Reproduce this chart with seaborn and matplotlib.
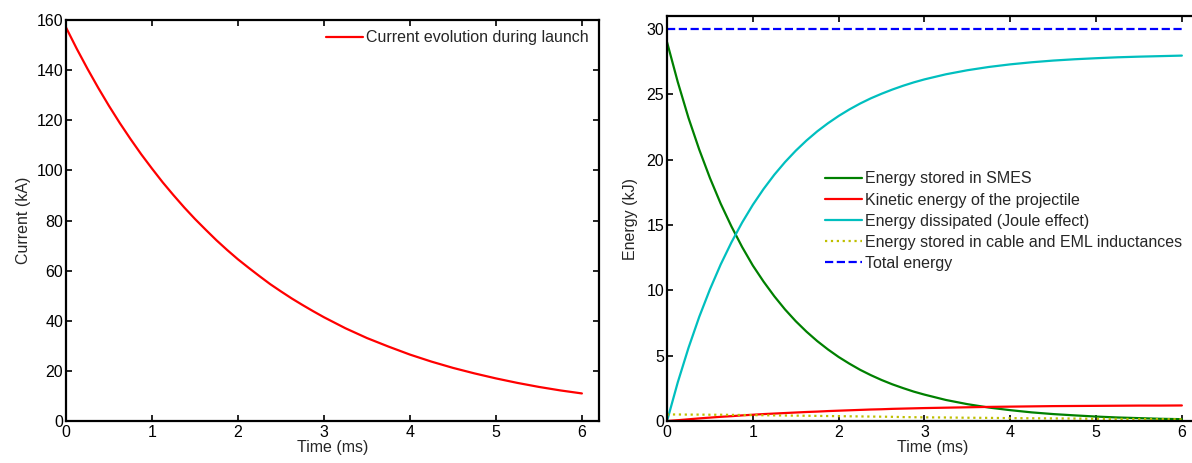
import numpy as np
import pandas as pd
import matplotlib
matplotlib.use("Agg")
import matplotlib.pyplot as plt
import seaborn as sns

# ---- data ----
time_ms = [0.0, 0.125, 0.25, 0.375, 0.5, 0.625, 0.75, 0.875, 1.0, 1.125, 1.25, 1.375,
           1.5, 1.625, 1.75, 1.875, 2.0, 2.125, 2.25, 2.375, 2.5, 2.625, 2.75, 2.875,
           3.0, 3.25, 3.5, 3.75, 4.0, 4.25, 4.5, 4.75, 5.0, 5.25, 5.5, 5.75, 6.0]

current_kA = [157.0, 148.5, 140.5, 132.9, 125.7, 118.9, 112.5, 106.4, 100.7, 95.2,
              90.1, 85.2, 80.6, 76.3, 72.1, 68.2, 64.5, 61.1, 57.8, 54.6, 51.7, 48.9,
              46.3, 43.8, 41.4, 37.0, 33.1, 29.7, 26.5, 23.7, 21.2, 19.0, 17.0, 15.2,
              13.6, 12.2, 11.0]

energy_smes = [29.0, 25.95, 23.2, 20.78, 18.6, 16.64, 14.9, 13.32, 11.9, 10.67, 9.55,
               8.54, 7.64, 6.84, 6.12, 5.48, 4.90, 4.39, 3.92, 3.51, 3.14, 2.81, 2.52,
               2.25, 2.02, 1.61, 1.29, 1.03, 0.83, 0.66, 0.53, 0.43, 0.34, 0.27, 0.22,
               0.17, 0.14]

energy_kinetic = [0.0, 0.06, 0.13, 0.20, 0.26, 0.32, 0.37, 0.43, 0.48, 0.53, 0.57, 0.61,
                  0.65, 0.69, 0.72, 0.76, 0.79, 0.82, 0.85, 0.88, 0.90, 0.93, 0.95,
                  0.97, 0.99, 1.02, 1.05, 1.08, 1.10, 1.12, 1.14, 1.15, 1.16, 1.17,
                  1.18, 1.18, 1.19]

energy_joule = [0.0, 2.96, 5.60, 7.97, 10.08, 11.98, 13.67, 15.19, 16.55, 17.76, 18.85,
                19.82, 20.69, 21.47, 22.17, 22.79, 23.35, 23.85, 24.30, 24.70, 25.05,
                25.37, 25.66, 25.92, 26.15, 26.54, 26.85, 27.10, 27.30, 27.46, 27.59,
                27.69, 27.77, 27.84, 27.89, 27.93, 27.97]

energy_inductance = [0.50, 0.50, 0.49, 0.49, 0.48, 0.48, 0.47, 0.46, 0.45, 0.44, 0.43,
                     0.42, 0.41, 0.40, 0.39, 0.38, 0.37, 0.36, 0.35, 0.34, 0.33, 0.32,
                     0.30, 0.29, 0.28, 0.27, 0.25, 0.24, 0.22, 0.21, 0.20, 0.19, 0.17,
                     0.16, 0.15, 0.14, 0.13]

energy_total = [30.0] * len(time_ms)

current_label = "Current evolution during launch"
energy_labels = ["Energy stored in SMES",
                 "Kinetic energy of the projectile",
                 "Energy dissipated (Joule effect)",
                 "Energy stored in cable and EML inductances",
                 "Total energy"]

# ---- style ----
FS = 11.5
sns.set_style("ticks")
plt.rcParams["font.family"] = ["Liberation Sans", "DejaVu Sans"]
plt.rcParams["font.size"] = FS
plt.rcParams["axes.linewidth"] = 1.6
plt.rcParams["xtick.direction"] = "in"
plt.rcParams["ytick.direction"] = "in"
plt.rcParams["xtick.top"] = True
plt.rcParams["ytick.right"] = True
plt.rcParams["xtick.major.size"] = 4
plt.rcParams["ytick.major.size"] = 4
plt.rcParams["xtick.major.width"] = 1.2
plt.rcParams["ytick.major.width"] = 1.2
plt.rcParams["xtick.major.pad"] = 3
plt.rcParams["ytick.major.pad"] = 2
plt.rcParams["xtick.color"] = "black"
plt.rcParams["ytick.color"] = "black"
plt.rcParams["axes.edgecolor"] = "black"

fig = plt.figure(figsize=(11.92, 4.63), dpi=100)
ax1 = fig.add_axes([0.0554, 0.0907, 0.4472, 0.8661])
ax2 = fig.add_axes([0.5596, 0.0907, 0.4463, 0.8747])

# ---- left: current ----
df_c = pd.DataFrame({"t": time_ms, "I": current_kA})
sns.lineplot(data=df_c, x="t", y="I", ax=ax1, color="#ff0000", linewidth=1.6,
             label=current_label)
ax1.set_xlim(0, 6.2)
ax1.set_ylim(0, 160)
ax1.set_xticks(range(0, 7))
ax1.set_yticks(range(0, 161, 20))
ax1.set_xlabel("Time (ms)", labelpad=0)
ax1.set_ylabel("Current (kA)", labelpad=4)
ax1.legend(loc="upper right", frameon=False, handlelength=2.3, handletextpad=0.2,
           borderaxespad=0.25, fontsize=FS)

# ---- right: energies ----
series = [(energy_smes, "#008000", "-"),
          (energy_kinetic, "#ff0000", "-"),
          (energy_joule, "#00bfbf", "-"),
          (energy_inductance, "#bfbf00", ":"),
          (energy_total, "#0000ff", "--")]
for (vals, col, ls), lab in zip(series, energy_labels):
    d = pd.DataFrame({"t": time_ms, "E": vals})
    sns.lineplot(data=d, x="t", y="E", ax=ax2, color=col, linestyle=ls,
                 linewidth=1.6, label=lab)
ax2.set_xlim(0, 6.2)
ax2.set_ylim(0, 31)
ax2.set_xticks(range(0, 7))
ax2.set_yticks(range(0, 31, 5))
ax2.set_xlabel("Time (ms)", labelpad=0)
ax2.set_ylabel("Energy (kJ)", labelpad=6)
ax2.legend(loc="upper left", bbox_to_anchor=(0.285, 0.632), frameon=False,
           handlelength=2.3, handletextpad=0.2, labelspacing=0.38,
           borderaxespad=0.0, fontsize=FS)

fig.savefig("out.png", dpi=100)
